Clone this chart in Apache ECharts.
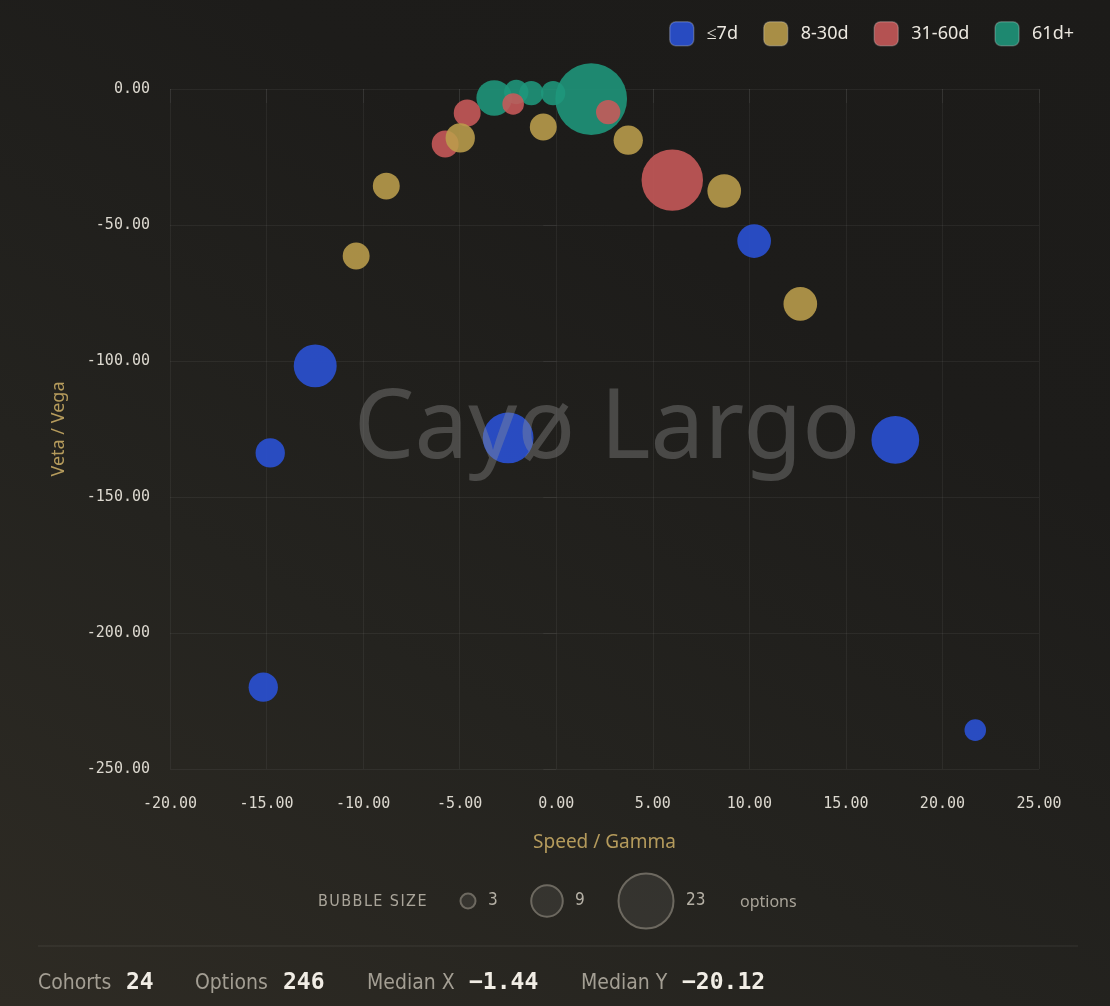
<!DOCTYPE html>
<html>
<head>
<meta charset="utf-8">
<script src="https://cdn.jsdelivr.net/npm/echarts@6/dist/echarts.min.js"></script>
<style>
  html, body { margin: 0; padding: 0; }
  body {
    width: 1110px; height: 1006px; overflow: hidden;
    background: linear-gradient(30deg, #2e2b24 0%, #24231f 35%, #1d1c1a 70%, #1c1b19 100%);
  }
  #chart { width: 1110px; height: 1006px; }
</style>
</head>
<body>
<div id="chart"></div>
<script>
// ---- Data ----
const buckets = ['≤7d', '8-30d', '31-60d', '61d+'];

// ≤7d
const xShort = [-12.48, -14.81, -15.17, -2.49, 10.25, 17.56, 21.70];
const yShort = [-101.8, -133.8, -219.9, -128.3, -55.9, -129.0, -235.7];
const nShort = [15, 8, 8, 20, 10, 18, 5];

// 8-30d
const xMid = [-10.36, -8.80, -4.97, -0.67, 3.73, 8.70, 12.64];
const yMid = [-61.4, -35.7, -18.0, -14.0, -18.8, -37.5, -79.0];
const nMid = [7, 7, 8, 7, 8, 10, 10];

// 31-60d
const xLong = [-5.75, -4.61, -2.23, 2.69, 6.01];
const yLong = [-20.2, -8.8, -5.5, -8.5, -33.5];
const nLong = [7, 7, 5, 6, 28];

// 61d+
const xLeap = [-3.21, -2.07, -1.29, -0.16, 1.81];
const yLeap = [-3.3, -1.1, -1.5, -1.5, -3.7];
const nLeap = [11, 6, 6, 6, 37];

const xTicks = [-20, -15, -10, -5, 0, 5, 10, 15, 20, 25];
const yTicks = [-250, -200, -150, -100, -50, 0];
const sizeLegend = [3, 9, 23];

const footerLabels = ['Cohorts', 'Options', 'Median X', 'Median Y'];
const footerValues = ['24', '246', '−1.44', '−20.12'];

// ---- Styling ----
const colors = ['#2a52d8', '#bc9e4c', '#c95a5a', '#1f977c'];
const sizeOf = v => 13.05 * Math.sqrt(v) - 7.6;

function pts(xs, ys, ns) { return xs.map((x, i) => [x, ys[i], ns[i]]); }
const seriesData = [pts(xShort, yShort, nShort), pts(xMid, yMid, nMid), pts(xLong, yLong, nLong), pts(xLeap, yLeap, nLeap)];

const gridColor = 'rgba(255,255,255,0.055)';
const labelColor = '#dcd8cf';
const nameColor = '#b59b5c';

// draw order: 61d+ at bottom, then 31-60d, 8-30d, ≤7d
const order = [3, 2, 1, 0];
const series = order.map(i => ({
  name: buckets[i],
  type: 'scatter',
  data: seriesData[i],
  symbolSize: val => sizeOf(val[2]),
  clip: false,
  itemStyle: { color: colors[i], opacity: 0.88 },
  emphasis: { disabled: true }
}));

// bubble-size legend graphics
const g = [];
g.push({ type: 'text', x: 318, y: 902, style: { text: 'BUBBLE SIZE'.split('').join('\u200A'), fill: '#aaa59a', font: '16px "DejaVu Sans Condensed"', textVerticalAlign: 'middle', verticalAlign: 'middle' } });
const legendCx = [468, 547, 646];
const legendTx = [488, 575, 686];
sizeLegend.forEach((v, i) => {
  g.push({ type: 'circle', shape: { cx: legendCx[i], cy: 901, r: sizeOf(v) / 2 }, style: { fill: 'rgba(255,255,255,0.07)', stroke: '#6d6960', lineWidth: 2 } });
  g.push({ type: 'text', x: legendTx[i], y: 901, style: { text: String(v), fill: '#b5b0a5', font: '17px "DejaVu Sans Condensed"', textVerticalAlign: 'middle', verticalAlign: 'middle' } });
});
g.push({ type: 'text', x: 740, y: 902, style: { text: 'options', fill: '#a8a398', font: '16px "Noto Sans"', textVerticalAlign: 'middle', verticalAlign: 'middle' } });

// footer
g.push({ type: 'line', shape: { x1: 38, y1: 946, x2: 1078, y2: 946 }, style: { stroke: 'rgba(255,255,255,0.09)', lineWidth: 1 } });
const fLabX = [38, 195, 367, 581];
const fValX = [126, 283, 469, 682];
footerLabels.forEach((t, i) => {
  g.push({ type: 'text', x: fLabX[i], y: 984, style: { text: t, fill: '#a39e93', font: '21px "DejaVu Sans Condensed"', textVerticalAlign: 'middle', verticalAlign: 'middle' } });
  g.push({ type: 'text', x: fValX[i], y: 983, style: { text: footerValues[i], fill: '#f1ede5', font: 'bold 23px "DejaVu Sans Mono"', textVerticalAlign: 'middle', verticalAlign: 'middle' } });
});

// watermark
g.push({ type: 'text', x: 607, y: 431, z: 100, silent: true, style: { text: 'Cayø Largo', fill: 'rgba(150,150,150,0.36)', font: '96px "Noto Sans"', textAlign: 'center', align: 'center', textVerticalAlign: 'middle', verticalAlign: 'middle' } });

const chart = echarts.init(document.getElementById('chart'), null, { renderer: 'canvas' });
chart.setOption({
  backgroundColor: 'transparent',
  animation: false,
  legend: {
    data: buckets,
    right: 31, top: 16,
    icon: 'roundRect',
    itemWidth: 24, itemHeight: 24, itemGap: 25,
    textStyle: { color: '#ece8e0', fontSize: 18, fontFamily: 'Noto Sans', padding: [0, 0, 0, 8] },
    itemStyle: { borderColor: 'rgba(255,255,255,0.25)', borderWidth: 1.5 }
  },
  grid: { left: 170, right: 71, top: 89, bottom: 237 },
  xAxis: {
    type: 'value',
    min: xTicks[0], max: xTicks[xTicks.length - 1], interval: 5,
    name: 'Speed / Gamma', nameLocation: 'middle', nameGap: 64,
    nameTextStyle: { color: nameColor, fontSize: 19, fontFamily: 'Noto Sans' },
    axisLine: { show: false },
    axisTick: { show: true, length: 14, lineStyle: { color: gridColor } },
    splitLine: { show: true, lineStyle: { color: gridColor, width: 1 } },
    axisLabel: { color: labelColor, fontFamily: 'DejaVu Sans Mono', fontSize: 15, margin: 28, formatter: v => v.toFixed(2) }
  },
  yAxis: {
    type: 'value',
    min: yTicks[0], max: yTicks[yTicks.length - 1], interval: 50,
    name: 'Veta / Vega', nameLocation: 'middle', nameGap: 102,
    nameTextStyle: { color: nameColor, fontSize: 18, fontFamily: 'Noto Sans' },
    axisLine: { show: false },
    axisTick: { show: true, length: 13, lineStyle: { color: gridColor } },
    splitLine: { show: true, lineStyle: { color: gridColor, width: 1 } },
    axisLabel: { color: labelColor, fontFamily: 'DejaVu Sans Mono', fontSize: 15, margin: 20, formatter: v => v.toFixed(2) }
  },
  series: series,
  graphic: g
});
</script>
</body>
</html>
